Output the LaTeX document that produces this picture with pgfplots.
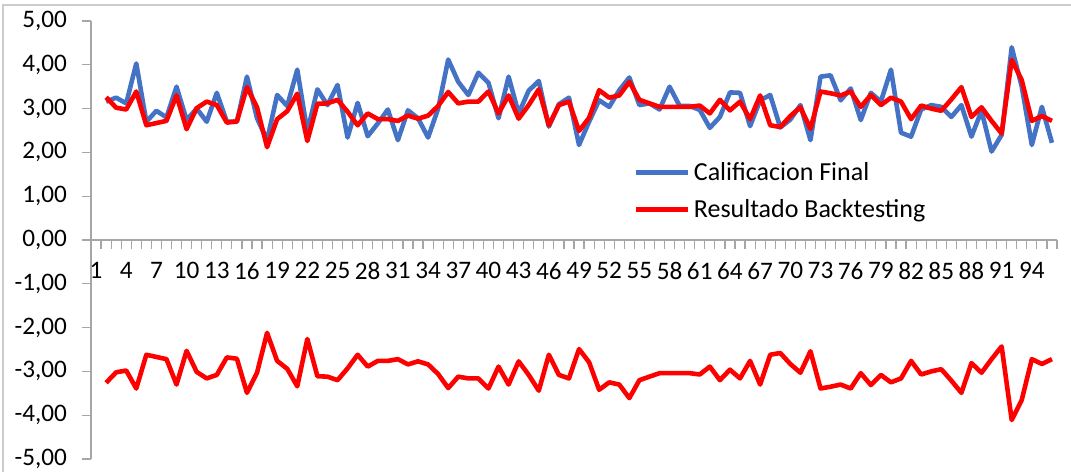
\documentclass[border=0pt]{standalone}
\usepackage{fontspec}
\setmainfont{Carlito}
\usepackage{pgfplots}
\usepackage{pgfplotstable}
\pgfplotsset{compat=1.18}
\definecolor{xlblue}{HTML}{4472C4}
\definecolor{xlred}{HTML}{FF0000}
\definecolor{axgray}{HTML}{A6A6A6}
\pgfplotstableread{
i b r
2 3.16 3.26
3 3.25 3.02
4 3.12 2.98
5 4.03 3.39
6 2.70 2.62
7 2.95 2.67
8 2.80 2.72
9 3.50 3.30
10 2.74 2.53
11 3.00 3.01
12 2.70 3.16
13 3.36 3.08
14 2.70 2.68
15 2.70 2.71
16 3.73 3.49
17 2.78 3.03
18 2.28 2.12
19 3.31 2.76
20 3.06 2.94
21 3.89 3.34
22 2.47 2.26
23 3.44 3.11
24 3.08 3.12
25 3.54 3.20
26 2.34 2.93
27 3.13 2.62
28 2.37 2.89
29 2.66 2.76
30 2.98 2.76
31 2.28 2.72
32 2.96 2.84
33 2.78 2.77
34 2.34 2.84
35 3.00 3.06
36 4.12 3.38
37 3.61 3.12
38 3.31 3.16
39 3.82 3.16
40 3.59 3.39
41 2.78 2.89
42 3.73 3.30
43 2.89 2.77
44 3.41 3.08
45 3.63 3.44
46 2.59 2.62
47 3.10 3.08
48 3.25 3.16
49 2.17 2.49
50 2.70 2.79
51 3.19 3.42
52 3.04 3.25
53 3.42 3.30
54 3.71 3.61
55 3.08 3.20
56 3.12 3.12
57 2.98 3.04
58 3.50 3.04
59 3.06 3.04
60 3.06 3.04
61 2.97 3.07
62 2.56 2.89
63 2.81 3.20
64 3.37 2.96
65 3.36 3.16
66 2.60 2.76
67 3.19 3.30
68 3.31 2.62
69 2.57 2.58
70 2.75 2.83
71 3.08 3.03
72 2.28 2.54
73 3.73 3.39
74 3.76 3.35
75 3.19 3.30
76 3.46 3.39
77 2.74 3.04
78 3.36 3.31
79 3.16 3.08
80 3.89 3.25
81 2.45 3.16
82 2.36 2.76
83 2.98 3.07
84 3.08 3.00
85 3.04 2.95
86 2.81 3.21
87 3.08 3.49
88 2.36 2.81
89 2.95 3.03
90 2.02 2.72
91 2.40 2.43
92 4.40 4.11
93 3.50 3.65
94 2.17 2.72
95 3.04 2.83
96 2.22 2.72
}\data
\begin{document}
\begin{tikzpicture}
\path[use as bounding box] (-45.5pt,-6.5pt) rectangle (490pt,229.5pt);
\draw[gray!40, line width=0.6pt] (-44pt,-6.5pt) -- (-44pt,227pt) -- (490pt,227pt);
\begin{axis}[
  at={(0,0)}, anchor=south west, scale only axis,
  width=483pt, height=219pt,
  xmin=0.5, xmax=96.5, ymin=-5, ymax=5,
  axis x line=middle, axis y line=left,
  axis line style={axgray, line width=0.6pt, -},
  tick align=outside,
  major tick length=4.5pt, minor tick length=4.5pt,
  tick style={axgray, line width=0.6pt},
  ytick={-5,-4,...,5},
  yticklabels={{-5,00},{-4,00},{-3,00},{-2,00},{-1,00},{0,00},{1,00},{2,00},{3,00},{4,00},{5,00}},
  xtick={1,4,...,94},
  xticklabel={\pgfmathparse{int(\tick)}\pgfmathresult},
  minor xtick={0.5,1.5,...,96.5},
  major x tick style={draw=none},
  ticklabel style={font=\fontsize{12.6}{14.5}\selectfont, text=black},
  yticklabel style={xshift=-4pt},
  xticklabel style={yshift=-3pt},
  legend style={draw=none, fill=none, at={(rel axis cs:0.561,0.688)}, anchor=north west,
    font=\fontsize{13}{15.6}\selectfont, row sep=4pt, inner sep=0pt},
  legend cell align=left,
  legend image code/.code={\draw[#1] (0pt,0pt) -- (26pt,0pt);},
  clip=false,
]
\addplot[xlblue, line width=2.3pt, line join=round] table[x=i, y=b] {\data};
\addlegendentry{Calificacion Final}
\addplot[xlred, line width=2.3pt, line join=round] table[x=i, y=r] {\data};
\addlegendentry{Resultado Backtesting}
\addplot[xlred, line width=2.3pt, line join=round, forget plot] table[x=i, y expr=-\thisrow{r}] {\data};
\end{axis}
\end{tikzpicture}
\end{document}
